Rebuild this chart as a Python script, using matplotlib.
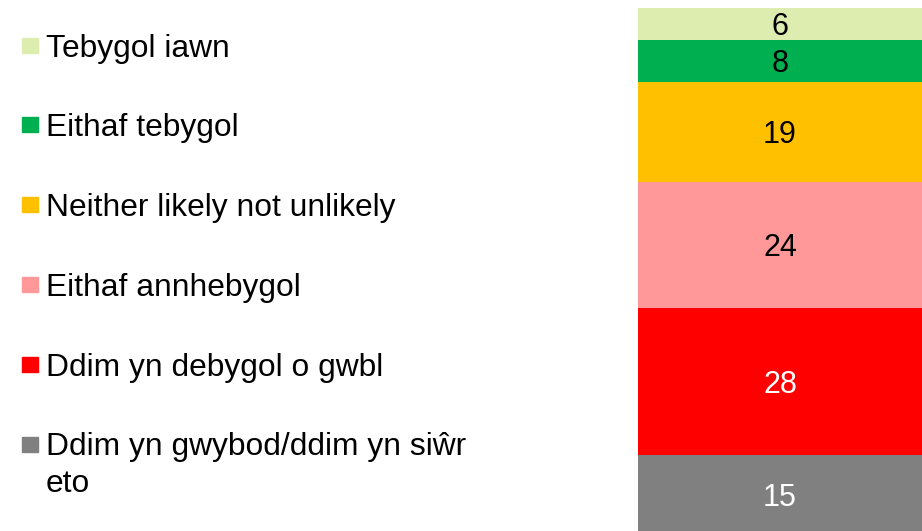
import matplotlib
matplotlib.use("Agg")
import matplotlib.pyplot as plt
from matplotlib.patches import Rectangle

plt.rcParams['font.family'] = ['Liberation Sans', 'DejaVu Sans']

# Data (bottom to top of the stacked bar)
categories = [
    "Ddim yn gwybod/ddim yn siŵr\neto",
    "Ddim yn debygol o gwbl",
    "Eithaf annhebygol",
    "Neither likely not unlikely",
    "Eithaf tebygol",
    "Tebygol iawn",
]
values = [15, 28, 24, 19, 8, 6]
colors = ["#808080", "#FF0000", "#FF9999", "#FFC000", "#00B050", "#DDEDAF"]
label_colors = ["white", "white", "black", "black", "black", "black"]

W, H = 922, 531
fig = plt.figure(figsize=(W / 100, H / 100), dpi=100)

# Bar axes (extends slightly below the figure bottom, as in the reference)
ax = fig.add_axes([638 / W, -3 / H, (W - 638) / W, 526 / H])
ax.set_xlim(-0.5, 0.5)
ax.set_ylim(0, sum(values))
bottom = 0
for v, c, lc in zip(values, colors, label_colors):
    ax.bar(0, v, width=1.0, bottom=bottom, color=c, edgecolor='none')
    ax.text(0, bottom + v / 2, str(v), ha='center', va='center_baseline',
            fontsize=22, color=lc)
    bottom += v
ax.axis('off')

# Legend (top to bottom)
y0, dy = 45, 79.8
line_px = 36
for i, (lab, c) in enumerate(zip(categories[::-1], colors[::-1])):
    yc = y0 + i * dy
    fig.patches.append(Rectangle((22 / W, 1 - (yc + 7.5) / H), 16 / W, 15 / H,
                                 transform=fig.transFigure, color=c,
                                 figure=fig))
    lines = lab.split("\n")
    for j, ln in enumerate(lines):
        fig.text(46 / W, 1 - (yc + 11.5 + j * line_px) / H, ln, ha='left',
                 va='baseline', fontsize=22.9, color='black')

fig.savefig("out.png", dpi=100)
